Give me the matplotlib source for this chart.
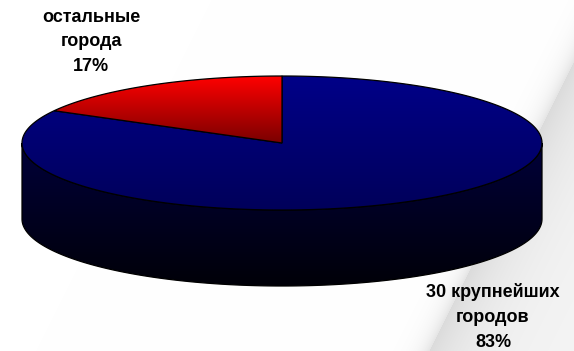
import numpy as np
import matplotlib
matplotlib.use('Agg')
import matplotlib.pyplot as plt
from matplotlib.patches import Polygon
from matplotlib.colors import LinearSegmentedColormap

# shares of the two groups, red slice drawn first from 12 o'clock counterclockwise
labels = ['остальные\nгорода\n17%', '30 крупнейших\nгородов\n83%']
shares = [17, 83]
label_pos = [(91, 42), (493, 317)]

W, H = 574, 351
cx, cy = 282, 143      # centre of the top ellipse (pixels)
rx, ry = 260, 67       # ellipse radii
depth = 76             # height of the side wall

fig = plt.figure(figsize=(W / 100, H / 100), dpi=100)
ax = fig.add_axes([0, 0, 1, 1])
ax.set_xlim(0, W)
ax.set_ylim(H, 0)
ax.axis('off')

# light page-curl shadow on the right
yy, xx = np.mgrid[0:H, 0:W]
d = (xx - (574 - 0.5 * (yy - 60))) / 1.12
bg = np.where(d > 0, 0.86 + 0.10 * (1 - np.exp(-d / 40)), 1 - 0.10 * np.exp(d / 10))
bg = np.clip(bg, 0, 1)
ax.imshow(np.dstack([bg, bg, bg]), extent=(0, W, H, 0), zorder=0, interpolation='bilinear')


def rim(t, dy=0):
    return np.column_stack([cx + rx * np.cos(t), cy - ry * np.sin(t) + dy])


def gradient_fill(poly, c_top, c_bot, y0, y1, z):
    cmap = LinearSegmentedColormap.from_list('g', [c_top, c_bot])
    grad = np.linspace(0, 1, 256).reshape(-1, 1)
    im = ax.imshow(grad, cmap=cmap, extent=(0, W, y1, y0), aspect='auto', zorder=z)
    patch = Polygon(poly, closed=True, facecolor='none', edgecolor='none')
    ax.add_patch(patch)
    im.set_clip_path(patch)
    ax.add_patch(Polygon(poly, closed=True, facecolor='none', edgecolor='black', lw=0.9, zorder=z + 0.5))


# side wall (front half only, all blue)
t = np.linspace(np.pi, 2 * np.pi, 200)
side = np.vstack([rim(t), rim(t[::-1], depth)])
gradient_fill(side, '#00003a', '#000008', cy, cy + ry + depth, 1)

# top faces
colors = [('#ff0000', '#7a0000'), ('#000088', '#00005a')]
start = 90.0
for share, (ctop, cbot) in zip(shares, colors):
    ext = 360.0 * share / sum(shares)
    tt = np.radians(np.linspace(start, start + ext, 300))
    poly = np.vstack([[cx, cy], rim(tt)])
    if share == 17:
        gradient_fill(poly, ctop, cbot, cy - ry, cy, 3)
    else:
        gradient_fill(poly, ctop, cbot, cy - ry, cy + ry, 2)
    start += ext

for (x, y), lab in zip(label_pos, labels):
    ax.text(x, y, lab, ha='center', va='center', fontsize=13, fontweight='bold',
            family=['Liberation Sans', 'DejaVu Sans'], linespacing=1.6, zorder=5)

fig.savefig('out.png', dpi=100)
